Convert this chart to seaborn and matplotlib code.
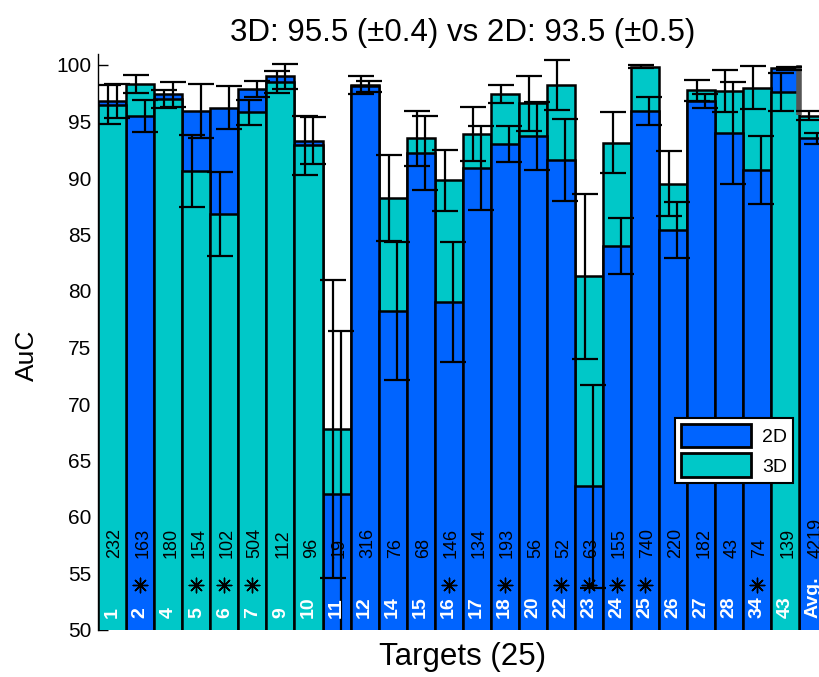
import numpy as np
import pandas as pd
import matplotlib
matplotlib.use("Agg")
import matplotlib.pyplot as plt
from matplotlib.patches import Patch
import seaborn as sns

# ---- data -------------------------------------------------------------
targets = ['1', '2', '4', '5', '6', '7', '9', '10', '11', '12', '14', '15', '16',
           '17', '18', '20', '22', '23', '24', '25', '26', '27', '28', '34', '43']
counts = [232, 163, 180, 154, 102, 504, 112, 96, 19, 316, 76, 68, 146,
          134, 193, 56, 52, 63, 155, 740, 220, 182, 43, 74, 139]
starred = ['2', '5', '6', '7', '16', '18', '22', '23', '24', '25', '34']

auc_2d = [96.8, 95.5, 97.4, 95.9, 96.2, 97.9, 99.0, 93.3, 62.0, 98.1, 78.2, 92.2, 79.0,
          90.9, 93.0, 93.7, 91.6, 62.7, 84.0, 95.9, 85.4, 96.8, 94.0, 90.7, 99.7]
err_2d = [1.5, 1.4, 1.1, 2.4, 1.9, 0.7, 1.1, 2.1, 14.5, 0.5, 6.1, 3.3, 5.3,
          3.7, 1.6, 3.0, 3.6, 9.0, 2.5, 1.25, 2.5, 0.6, 4.5, 3.0, 0.15]
auc_3d = [96.5, 98.3, 97.0, 90.6, 86.8, 95.8, 98.5, 92.9, 67.8, 98.25, 88.2, 93.5, 89.8,
          93.9, 97.4, 96.6, 98.2, 81.3, 93.1, 99.85, 89.5, 97.75, 97.7, 98.0, 97.6]
err_3d = [1.7, 0.8, 0.8, 3.2, 3.7, 1.1, 1.0, 2.6, 13.2, 0.8, 3.8, 2.4, 2.7,
          2.4, 0.8, 2.4, 2.2, 7.3, 2.7, 0.15, 2.9, 0.9, 1.85, 1.9, 1.7]

avg_label = 'Avg.'
avg_count = 4219
avg_2d, avg_err_2d = 93.5, 0.5
avg_3d, avg_err_3d = 95.5, 0.4

# ---- styling ----------------------------------------------------------
BLUE = '#0064ff'
CYAN = '#00c8c8'
sns.set_style('white')
plt.rcParams['font.family'] = ['Liberation Sans', 'DejaVu Sans']
plt.rcParams.update({'text.color': 'black', 'axes.labelcolor': 'black',
                     'xtick.color': 'black', 'ytick.color': 'black'})

labels = targets + [avg_label]
all_counts = counts + [avg_count]
v2 = np.array(auc_2d + [avg_2d])
v3 = np.array(auc_3d + [avg_3d])
e2 = np.array(err_2d + [avg_err_2d])
e3 = np.array(err_3d + [avg_err_3d])

# the taller bar of each pair goes behind, the shorter one in front
back = pd.DataFrame({
    'target': labels,
    'AuC': np.maximum(v2, v3),
    'method': np.where(v2 >= v3, '2D', '3D'),
})
front = pd.DataFrame({
    'target': labels,
    'AuC': np.minimum(v2, v3),
    'method': np.where(v2 >= v3, '3D', '2D'),
})

fig = plt.figure(figsize=(8.19, 6.77), dpi=100)
ax = fig.add_axes([98.3 / 819, 47 / 677, (827 - 98.3) / 819, (630 - 53.7) / 677])

palette = {'2D': BLUE, '3D': CYAN}
for layer in (back, front):
    sns.barplot(data=layer, x='target', y='AuC', hue='method', order=labels,
                hue_order=['2D', '3D'], palette=palette, dodge=False, width=1.0,
                edgecolor='black', linewidth=1.8, saturation=1, legend=False, ax=ax)

x = np.arange(len(labels))
ax.errorbar(x - 0.14, v3, yerr=e3, fmt='none', ecolor='black', elinewidth=1.6,
            capsize=9.5, capthick=1.6, zorder=5)
ax.errorbar(x + 0.16, v2, yerr=e2, fmt='none', ecolor='black', elinewidth=1.6,
            capsize=9.5, capthick=1.6, zorder=5)

# separator between the targets and the average
ax.plot([len(targets) - 0.5] * 2, [avg_3d + 0.1, 100], color='#555555', lw=4,
        zorder=4, solid_capstyle='butt')

# per-target annotations
for i, (lab, n) in enumerate(zip(labels, all_counts)):
    ax.text(i, 51.1, lab, rotation=90, ha='center', va='bottom', color='white',
            fontsize=14, fontweight='bold', zorder=6)
    ax.text(i + 0.1, 56.4, str(n), rotation=90, ha='center', va='bottom',
            color='black', fontsize=13, zorder=6)

star_x = [labels.index(t) for t in starred]
ax.scatter(star_x, [54.0] * len(star_x), marker=(8, 2, 0), s=110, color='black',
           linewidths=1.0, zorder=6)

ax.set_xlim(-0.5, len(labels) - 0.5)
ax.set_ylim(50, 101)
ax.set_yticks(np.arange(50, 101, 5))
ax.set_xticks([])
ax.tick_params(axis='y', direction='in', length=7, width=1, labelsize=15, pad=5,
               left=True)
for side in ('top', 'right', 'bottom'):
    ax.spines[side].set_visible(False)
ax.spines['left'].set_color('black')
ax.spines['left'].set_linewidth(1)

ax.set_ylabel('AuC', fontsize=19)
ax.yaxis.set_label_coords(-0.082, 0.477)
ax.set_xlabel(f'Targets ({len(targets)})', fontsize=22.5, labelpad=9)
ax.set_title(f'3D: {avg_3d:.1f} (±{avg_err_3d:.1f}) vs 2D: {avg_2d:.1f} (±{avg_err_2d:.1f})',
             fontsize=22.5, pad=9)

handles = [Patch(facecolor=BLUE, edgecolor='black', linewidth=2, label='2D'),
           Patch(facecolor=CYAN, edgecolor='black', linewidth=2, label='3D')]
leg = ax.legend(handles=handles, loc='upper left', bbox_to_anchor=(0.791, 0.368),
                fontsize=14, frameon=True, fancybox=False, framealpha=1,
                edgecolor='black', handlelength=3.6, handleheight=1.5,
                borderpad=0.3, labelspacing=0.3, handletextpad=0.6,
                borderaxespad=0)
leg.get_frame().set_linewidth(1.5)
leg.set_zorder(10)

fig.savefig('out.png', dpi=100)
